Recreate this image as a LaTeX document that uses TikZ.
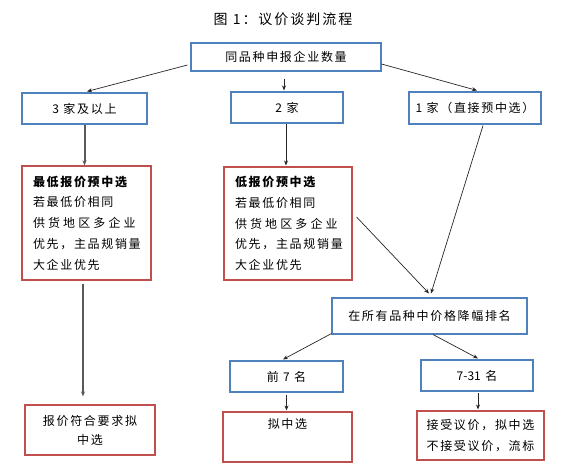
\documentclass[tikz,border=0pt]{standalone}
\usepackage{fontspec}
\setmainfont[LetterSpace=14]{Noto Sans CJK SC}
\usetikzlibrary{arrows.meta}
\definecolor{boxblue}{HTML}{4F81BD}
\definecolor{boxred}{HTML}{C0504D}
\tikzset{
  bluebox/.style={draw=boxblue, line width=1.1pt, inner sep=0pt, align=center, font=\fontsize{12}{14}\selectfont},
  redbox/.style={draw=boxred, line width=1.1pt, inner sep=0pt, font=\fontsize{12}{20.7}\selectfont},
  arr/.style={-{Stealth[length=5pt,width=4pt]}, line width=0.7pt, black!85},
  garr/.style={-{Stealth[length=5pt,width=4pt]}, line width=2pt, black!65},
}
\begin{document}
\begin{tikzpicture}[x=1pt,y=-1pt]
\useasboundingbox (0,0) rectangle (562,469);
\node[font=\fontsize{14}{16}\selectfont] (title) at (283,19) {图 1：议价谈判流程};

\node[bluebox, minimum width=190pt, minimum height=28pt] (top) at (286,57) {同品种申报企业数量};
\node[bluebox, minimum width=125pt, minimum height=31pt] (b3) at (84.5,108.5) {3 家及以上};
\node[bluebox, minimum width=112pt, minimum height=31pt] (b2) at (287,107.5) {2 家};
\node[bluebox, minimum width=132pt, minimum height=32pt] (b1) at (475,108) {1 家（直接预中选）};

\node[redbox, minimum width=129pt, minimum height=114pt, text width=107pt, align=left] (r1) at (86.5,223)
  {\textbf{最低报价预中选}\\若最低价相同\\{\addfontfeature{LetterSpace=26}供货地区多企业}\\优先，主品规销量\\大企业优先};
\node[redbox, minimum width=128pt, minimum height=113pt, text width=106pt, align=left] (r2) at (288,223.5)
  {\textbf{低报价预中选}\\若最低价相同\\{\addfontfeature{LetterSpace=26}供货地区多企业}\\优先，主品规销量\\大企业优先};

\node[bluebox, minimum width=195pt, minimum height=36pt] (rank) at (429.5,316) {在所有品种中价格降幅排名};
\node[bluebox, minimum width=113pt, minimum height=31pt] (p7) at (286.5,376.5) {前 7 名};
\node[bluebox, minimum width=112pt, minimum height=31pt] (p31) at (477,375.5) {{\addfontfeature{LetterSpace=0}7-31} 名};

\node[redbox, minimum width=130pt, minimum height=50pt, align=center, font=\fontsize{12}{19}\selectfont] (f1) at (90,430) {报价符合要求拟\\中选};
\node[redbox, minimum width=129pt, minimum height=50pt, align=center, font=\fontsize{12}{21}\selectfont] (f2) at (287.5,437) {拟中选\\\strut};
\node[redbox, minimum width=127pt, minimum height=49pt, align=center, font=\fontsize{12}{21}\selectfont] (f3) at (480.5,435.5) {接受议价，拟中选\\不接受议价，流标};

\draw[arr] ([shift={(-3,8)}]top.west) -- ([shift={(2.5,-1)}]b3.north);
\draw[arr] ([shift={(-2,7)}]top.south) -- ([shift={(-3,-1)}]b2.north);
\draw[arr] ([shift={(0,7)}]top.east) -- ([shift={(2,-1)}]b1.north);

\draw[garr] (b3.south) -- (b3.south |- r1.north);
\draw[arr] ([shift={(-1,0)}]b2.south) -- ([shift={(-1,-1)}]b2.south |- r2.north);

\draw[arr] ([shift={(8,1)}]b1.south) -- ([shift={(1.5,-4)}]rank.north);
\draw[arr] ([shift={(4,-6.5)}]r2.east) -- ([shift={(-0.5,-4)}]rank.north);

\draw[garr] ([shift={(-3.5,3)}]r1.south) -- ([shift={(-7,-8)}]f1.north);

\draw[arr] ([shift={(0,-1)}]rank.south west) -- ([shift={(-3.5,-1)}]p7.north);
\draw[arr] ([shift={(3.5,0)}]rank.south) -- ([shift={(1,-1)}]p31.north);

\draw[arr] ([shift={(0,2)}]p7.south) -- ([shift={(0,-1)}]p7.south |- f2.north);
\draw[arr] ([shift={(1,1)}]p31.south) -- ([shift={(1,-1)}]p31.south |- f3.north);
\end{tikzpicture}
\end{document}
